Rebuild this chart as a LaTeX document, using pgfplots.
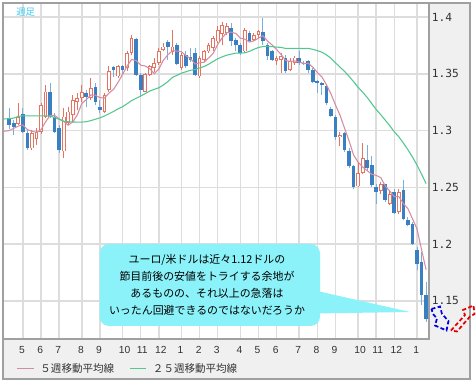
\documentclass[border=0pt]{standalone}
\usepackage{fontspec}
\usepackage{pgfplots}
\usepackage{pgfplotstable}
\pgfplotsset{compat=1.18}
\newfontfamily\jpfont{Noto Sans CJK JP}
\newfontfamily\monofont{DejaVu Sans Mono}
\newfontfamily\tickfont{Liberation Sans}
\definecolor{framegray}{HTML}{A0A0A0}
\definecolor{panelgray}{HTML}{F0F0F0}
\definecolor{gridgray}{HTML}{DDDDDD}
\definecolor{upcol}{HTML}{E5735F}
\definecolor{dncol}{HTML}{3A7FC1}
\definecolor{dnwick}{HTML}{7AAEDC}
\definecolor{maf}{HTML}{D48CA0}
\definecolor{mas}{HTML}{50C890}
\definecolor{callout}{HTML}{8CF2FA}
\definecolor{shuu}{HTML}{3CC8F0}
\definecolor{txt}{HTML}{333333}

\pgfplotstableread{
i o h l c
2 1.3060 1.3240 1.3050 1.3118
5 1.2843 1.3008 1.2825 1.2978
6 1.2925 1.3020 1.2874 1.2992
7 1.2992 1.3242 1.2972 1.3227
8 1.3124 1.3403 1.3110 1.3344
12 1.2816 1.3196 1.2757 1.3124
13 1.3066 1.3212 1.3051 1.3168
14 1.3139 1.3315 1.3066 1.3271
15 1.3256 1.3330 1.3183 1.3286
16 1.3286 1.3403 1.3256 1.3339
18 1.3286 1.3462 1.3271 1.3374
21 1.3168 1.3330 1.3153 1.3315
22 1.3359 1.3565 1.3344 1.3521
24 1.3477 1.3580 1.3462 1.3565
26 1.3550 1.3697 1.3521 1.3682
27 1.3682 1.3843 1.3667 1.3814
30 1.3344 1.3506 1.3339 1.3497
31 1.3491 1.3580 1.3477 1.3565
32 1.3550 1.3638 1.3520 1.3594
33 1.3594 1.3726 1.3580 1.3697
34 1.3711 1.3770 1.3697 1.3740
36 1.3690 1.3888 1.3667 1.3740
38 1.3550 1.3682 1.3535 1.3667
42 1.3477 1.3653 1.3462 1.3638
43 1.3623 1.3710 1.3600 1.3697
44 1.3697 1.3770 1.3680 1.3755
45 1.3726 1.3830 1.3700 1.3814
46 1.3785 1.3917 1.3770 1.3887
47 1.3850 1.3960 1.3751 1.3931
48 1.3858 1.3946 1.3843 1.3917
52 1.3697 1.3902 1.3682 1.3887
54 1.3799 1.3858 1.3785 1.3838
55 1.3843 1.3887 1.3814 1.3873
59 1.3614 1.3653 1.3579 1.3638
60 1.3623 1.3682 1.3506 1.3653
62 1.3535 1.3638 1.3521 1.3609
63 1.3594 1.3653 1.3579 1.3643
73 1.2942 1.2992 1.2860 1.2963
77 1.2508 1.2713 1.2502 1.2625
78 1.2625 1.2889 1.2619 1.2757
82 1.2468 1.2547 1.2444 1.2526
84 1.2356 1.2474 1.2342 1.2444
86 1.2283 1.2488 1.2268 1.2459
}\up

\pgfplotstableread{
i o h l c
0 1.3110 1.3200 1.3010 1.3050
1 1.3070 1.3090 1.2960 1.3036
3 1.3150 1.3200 1.2980 1.2990
4 1.2978 1.3007 1.2825 1.2846
9 1.3344 1.3418 1.3110 1.3124
10 1.3124 1.3153 1.2975 1.2990
11 1.3021 1.3051 1.2801 1.2830
17 1.3330 1.3360 1.3212 1.3300
19 1.3388 1.3418 1.3227 1.3256
20 1.3212 1.3271 1.3153 1.3183
23 1.3556 1.3570 1.3470 1.3535
25 1.3565 1.3580 1.3500 1.3535
28 1.3808 1.3814 1.3477 1.3491
29 1.3491 1.3506 1.3300 1.3359
35 1.3779 1.3800 1.3623 1.3740
37 1.3755 1.3770 1.3580 1.3585
39 1.3667 1.3700 1.3550 1.3565
40 1.3650 1.3726 1.3600 1.3620
41 1.3682 1.3726 1.3477 1.3491
49 1.3902 1.3946 1.3741 1.3785
50 1.3799 1.3814 1.3697 1.3755
51 1.3750 1.3770 1.3667 1.3682
53 1.3858 1.3873 1.3785 1.3790
56 1.3867 1.3990 1.3755 1.3785
57 1.3755 1.3770 1.3623 1.3653
58 1.3697 1.3711 1.3609 1.3623
61 1.3638 1.3667 1.3506 1.3521
64 1.3643 1.3697 1.3579 1.3594
65 1.3599 1.3609 1.3579 1.3585
66 1.3609 1.3623 1.3506 1.3535
67 1.3535 1.3550 1.3418 1.3432
68 1.3440 1.3447 1.3330 1.3415
69 1.3418 1.3432 1.3315 1.3400
70 1.3394 1.3403 1.3227 1.3245
71 1.3189 1.3212 1.3124 1.3130
72 1.3124 1.3139 1.2919 1.2942
74 1.2978 1.2992 1.2815 1.2831
75 1.2816 1.2845 1.2668 1.2684
76 1.2684 1.2698 1.2490 1.2505
79 1.2742 1.2874 1.2654 1.2669
80 1.2699 1.2772 1.2505 1.2518
81 1.2503 1.2532 1.2356 1.2459
83 1.2526 1.2532 1.2371 1.2386
85 1.2459 1.2488 1.2268 1.2274
87 1.2474 1.2562 1.2210 1.2224
88 1.2215 1.2239 1.2157 1.2165
89 1.2180 1.2195 1.1989 1.1998
90 1.1945 1.1974 1.1769 1.1828
91 1.1843 1.1931 1.1461 1.1549
92 1.1549 1.1667 1.1315 1.1344
}\down

\pgfplotstableread{
i v
-2 1.2990
0 1.3000
1 1.3020
2 1.3040
3 1.3050
4 1.3008
5 1.2994
6 1.2985
7 1.3007
8 1.3077
9 1.3133
10 1.3135
11 1.3103
12 1.3082
13 1.3047
14 1.3077
15 1.3136
16 1.3238
17 1.3273
18 1.3314
19 1.3311
20 1.3290
21 1.3286
22 1.3330
23 1.3362
24 1.3424
25 1.3494
26 1.3568
27 1.3626
28 1.3617
29 1.3576
30 1.3569
31 1.3545
32 1.3501
33 1.3542
34 1.3619
35 1.3667
36 1.3702
37 1.3700
38 1.3694
39 1.3659
40 1.3635
41 1.3586
42 1.3596
43 1.3602
44 1.3640
45 1.3679
46 1.3758
47 1.3817
48 1.3861
49 1.3867
50 1.3855
51 1.3814
52 1.3805
53 1.3780
54 1.3790
55 1.3814
56 1.3835
57 1.3788
58 1.3754
59 1.3714
60 1.3670
61 1.3618
62 1.3609
63 1.3613
64 1.3604
65 1.3590
66 1.3593
67 1.3558
68 1.3512
69 1.3473
70 1.3405
71 1.3324
72 1.3226
73 1.3136
74 1.3022
75 1.2910
76 1.2785
77 1.2722
78 1.2680
79 1.2648
80 1.2615
81 1.2606
82 1.2586
83 1.2512
84 1.2467
85 1.2418
86 1.2418
87 1.2357
88 1.2313
89 1.2224
90 1.2135
91 1.1953
92 1.1776
}\mafive

\pgfplotstableread{
i v
-2 1.3100
0 1.3105
1 1.3110
2 1.3125
3 1.3130
4 1.3130
5 1.3130
6 1.3130
7 1.3130
8 1.3130
9 1.3128
10 1.3115
11 1.3100
12 1.3082
13 1.3078
14 1.3076
15 1.3075
16 1.3075
17 1.3078
18 1.3088
19 1.3100
20 1.3112
21 1.3128
22 1.3148
23 1.3168
24 1.3191
25 1.3210
26 1.3236
27 1.3264
28 1.3284
29 1.3304
30 1.3325
31 1.3348
32 1.3363
33 1.3377
34 1.3401
35 1.3431
36 1.3468
37 1.3486
38 1.3506
39 1.3518
40 1.3531
41 1.3537
42 1.3551
43 1.3564
44 1.3584
45 1.3609
46 1.3632
47 1.3649
48 1.3664
49 1.3673
50 1.3682
51 1.3682
52 1.3685
53 1.3697
54 1.3716
55 1.3731
56 1.3740
57 1.3742
58 1.3739
59 1.3735
60 1.3732
61 1.3723
62 1.3724
63 1.3723
64 1.3724
65 1.3722
66 1.3724
67 1.3715
68 1.3704
69 1.3690
70 1.3667
71 1.3637
72 1.3597
73 1.3559
74 1.3521
75 1.3478
76 1.3431
77 1.3381
78 1.3339
79 1.3292
80 1.3238
81 1.3185
82 1.3140
83 1.3091
84 1.3043
85 1.2988
86 1.2945
87 1.2890
88 1.2831
89 1.2767
90 1.2697
91 1.2617
92 1.2534
}\matwentyfive

\begin{document}
\begin{tikzpicture}
\useasboundingbox (0,0) rectangle (357pt,-288pt);
\fill[white] (0,0) rectangle (357pt,-288pt);
\begin{scope}[x=0.75pt,y=-0.75pt]
\filldraw[fill=panelgray, draw=framegray, line width=0.8pt] (3,3) rectangle (470,379);
\end{scope}
\begin{axis}[
  at={(2.25pt,-2.25pt)}, anchor=north west,
  scale only axis, width=319.5pt, height=252pt,
  xmin=-1.39, xmax=92.65, ymin=1.11655, ymax=1.41232,
  axis background/.style={fill=white},
  axis line style={draw=framegray, line width=0.8pt},
  xtick={3,7,11,16,20,25,29,33,38,42,46,51,55,59,64,68,72,77,81,85,90},
  xticklabels={5,6,7,8,9,10,11,12,1,2,3,4,5,6,7,8,9,10,11,12,1},
  ytick={1.15,1.2,1.25,1.3,1.35,1.4},
  yticklabels={1.15,1.2,1.25,1.3,1.35,1.4},
  yticklabel pos=right,
  grid=major,
  major grid style={draw=gridgray, line width=1.2pt},
  major tick length=0pt, tick style={draw=none},
  x tick label style={font=\tickfont\fontsize{7.7}{9}\selectfont, text=txt, anchor=north west, inner sep=0pt, xshift=-3pt, yshift=-5.2pt},
  y tick label style={font=\monofont\fontsize{8.4}{9}\selectfont, text=txt, anchor=west, inner sep=0pt, xshift=2pt},
  legend style={at={(axis description cs:0.0322,-0.0884)}, anchor=west, draw=none, fill=none, inner sep=0pt, outer sep=0pt,
    font=\jpfont\fontsize{7.9}{9}\selectfont, text=txt, legend columns=2,
    nodes={inner sep=0pt},
    /tikz/every odd column/.append style={column sep=4.5pt},
    /tikz/every even column/.append style={column sep=11.3pt}},
  legend image code/.code={\draw[#1, line width=0.8pt] (0pt,0pt) -- (12.5pt,0pt);},
]
% wicks
\addplot[forget plot, draw=none, mark=none, error bars/.cd, y dir=plus, y explicit, error mark=none,
  error bar style={draw=upcol, line width=0.75pt, solid}]
  table[x=i, y=l, y error plus expr={\thisrow{h}-\thisrow{l}}] {\up};
\addplot[forget plot, draw=none, mark=none, error bars/.cd, y dir=plus, y explicit, error mark=none,
  error bar style={draw=dnwick, line width=0.75pt, solid}]
  table[x=i, y=l, y error plus expr={\thisrow{h}-\thisrow{l}}] {\down};
% up bodies (hollow)
\addplot[forget plot, draw=none, mark=none, error bars/.cd, y dir=plus, y explicit, error mark=none,
  error bar style={draw=upcol, line width=2.8pt, solid}]
  table[x=i, y=o, y error plus expr={max(\thisrow{c}-\thisrow{o},0.0009)}] {\up};
\addplot[forget plot, draw=none, mark=none, error bars/.cd, y dir=plus, y explicit, error mark=none,
  error bar style={draw=white, line width=1.3pt, solid}]
  table[x=i, y expr={\thisrow{o}+0.0007}, y error plus expr={max(\thisrow{c}-\thisrow{o}-0.0014,0)}] {\up};
% down bodies (filled)
\addplot[forget plot, draw=none, mark=none, error bars/.cd, y dir=plus, y explicit, error mark=none,
  error bar style={draw=dncol, line width=2.8pt, solid}]
  table[x=i, y=c, y error plus expr={max(\thisrow{o}-\thisrow{c},0.0009)}] {\down};
% moving averages
\addplot[maf, line width=0.8pt, mark=none] table[x=i, y=v] {\mafive};
\addlegendentry{５週移動平均線}
\addplot[mas, line width=0.8pt, mark=none] table[x=i, y=v] {\matwentyfive};
\addlegendentry{２５週移動平均線}
\node[anchor=west, inner sep=0pt, font=\jpfont\fontsize{7}{8}\selectfont, text=shuu] at (axis description cs:0.0305,0.972) {週足};
\end{axis}
\begin{scope}[x=0.75pt,y=-0.75pt]
\fill[callout] (315,290.5) -- (410,312) -- (315,313.5) -- cycle;
\fill[callout, rounded corners=7pt] (99.5,244) rectangle (320,326);
\node[font=\jpfont\fontsize{8.2}{12.75}\selectfont, align=center, inner sep=0pt, text=black] at (207,284.5)
  {ユーロ/米ドルは近々1.12ドルの\\節目前後の安値をトライする余地が\\あるものの、それ以上の急落は\\いったん回避できるのではないだろうか};
\draw[blue!90!black, line width=1.3pt, dash pattern=on 3pt off 1.8pt]
  (431.5,309) -- (440,306.5) -- (442,314) -- (448.5,321) -- (446.5,330.5) -- (435,325.5) -- (437,318.5) -- (433,314) -- cycle;
\draw[red!90!black, line width=1.3pt, dash pattern=on 3pt off 1.8pt]
  (451,330.5) -- (465,315) -- (463,310) -- (473.5,305.5) -- (474.5,314) -- (470,316.5) -- (457,331.5) -- cycle;
\end{scope}
\end{tikzpicture}
\end{document}
